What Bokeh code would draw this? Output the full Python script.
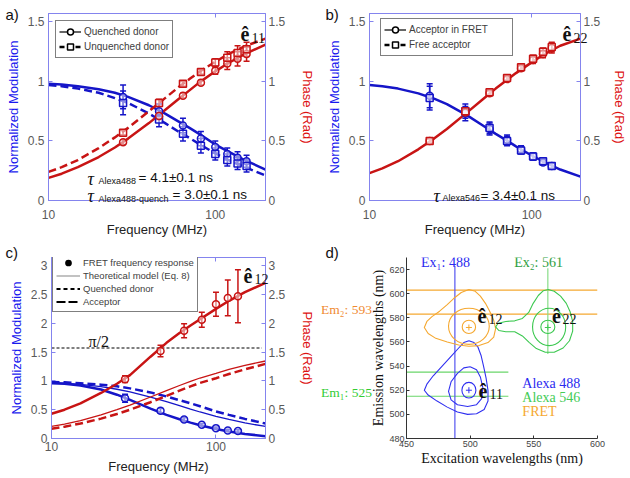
from bokeh.plotting import figure
from bokeh.models import (Range1d, LinearAxis, LogAxis, FixedTicker, NumeralTickFormatter, Label,
                          Legend, LegendItem, Whisker, TeeHead, ColumnDataSource, GridBox)
from bokeh.layouts import row, column
from bokeh.embed import file_html
from bokeh.resources import INLINE

# ---------------- data ----------------
F = [10, 12, 15, 20, 25, 30, 40, 50, 60, 70, 80, 100, 120, 150, 200]

# panel a
a_mod_quenched = [0.98, 0.975, 0.96, 0.935, 0.905, 0.87, 0.80, 0.73, 0.665, 0.61, 0.56, 0.47, 0.41, 0.34, 0.26]
a_mod_unquenched = [0.97, 0.96, 0.94, 0.905, 0.86, 0.82, 0.73, 0.65, 0.58, 0.525, 0.475, 0.395, 0.34, 0.28, 0.21]
a_phase_quenched = [0.19, 0.225, 0.28, 0.365, 0.445, 0.52, 0.65, 0.76, 0.85, 0.925, 0.99, 1.085, 1.155, 1.23, 1.31]
a_phase_unquenched = [0.24, 0.28, 0.34, 0.44, 0.53, 0.61, 0.75, 0.86, 0.95, 1.02, 1.08, 1.165, 1.23, 1.295, 1.36]
FA = [28, 46, 64, 82, 100, 118, 136, 154]
a_pt_mod_q = [0.87, 0.75, 0.63, 0.52, 0.45, 0.39, 0.36, 0.33]
a_pt_mod_u = [0.82, 0.68, 0.56, 0.46, 0.39, 0.34, 0.31, 0.29]
a_err_mod = [0.10, 0.06, 0.06, 0.06, 0.05, 0.05, 0.05, 0.05]
a_pt_ph_q = [0.49, 0.71, 0.88, 0.99, 1.09, 1.15, 1.19, 1.23]
a_pt_ph_u = [0.57, 0.82, 0.98, 1.08, 1.16, 1.20, 1.24, 1.27]
a_err_ph = [0.02, 0.03, 0.02, 0.02, 0.03, 0.05, 0.06, 0.06]

# panel b
b_mod = [0.97, 0.96, 0.94, 0.90, 0.855, 0.81, 0.715, 0.63, 0.56, 0.505, 0.455, 0.378, 0.322, 0.26, 0.20]
b_phase = [0.23, 0.27, 0.33, 0.43, 0.52, 0.60, 0.74, 0.85, 0.94, 1.01, 1.07, 1.16, 1.23, 1.30, 1.36]
FB = [23.5, 39, 55, 70.5, 86, 102, 117.5, 133]
b_pt_mod_fret = [0.88, 0.73, 0.60, 0.51, 0.43, 0.37, 0.32, 0.29]
b_pt_mod_free = [0.86, 0.75, 0.61, 0.50, 0.42, 0.37, 0.33, 0.29]
b_err_mod = [0.10, 0.06, 0.05, 0.04, 0.03, 0.03, 0.02, 0.02]
b_pt_ph_fret = [0.50, 0.74, 0.90, 1.02, 1.11, 1.18, 1.23, 1.28]
b_pt_ph_free = [0.50, 0.75, 0.91, 1.03, 1.12, 1.19, 1.25, 1.29]
b_err_ph = [0.015, 0.03, 0.02, 0.02, 0.02, 0.03, 0.03, 0.04]

# panel c
c_mod_fret = [0.96, 0.95, 0.92, 0.85, 0.76, 0.67, 0.52, 0.41, 0.335, 0.275, 0.23, 0.165, 0.12, 0.08, 0.04]
c_phase_fret = [0.43, 0.50, 0.61, 0.79, 0.95, 1.10, 1.42, 1.66, 1.83, 1.96, 2.07, 2.25, 2.39, 2.54, 2.70]
c_mod_acc = [0.97, 0.96, 0.94, 0.90, 0.855, 0.81, 0.72, 0.64, 0.57, 0.51, 0.46, 0.385, 0.33, 0.27, 0.21]
c_phase_acc = [0.21, 0.25, 0.31, 0.41, 0.50, 0.58, 0.72, 0.83, 0.92, 0.99, 1.05, 1.13, 1.20, 1.27, 1.345]
c_mod_qd = [0.98, 0.975, 0.96, 0.935, 0.905, 0.87, 0.80, 0.73, 0.665, 0.61, 0.56, 0.47, 0.41, 0.34, 0.26]
c_phase_qd = [0.17, 0.205, 0.26, 0.345, 0.425, 0.50, 0.63, 0.74, 0.83, 0.905, 0.965, 1.045, 1.12, 1.20, 1.295]
FC = [28, 46, 64, 82, 100, 118, 136]
c_pt_mod = [0.70, 0.48, 0.33, 0.24, 0.18, 0.14, 0.13]
c_err_mod = [0.07, 0.04, 0.03, 0.02, 0.02, 0.02, 0.02]
c_pt_ph = [1.03, 1.52, 1.87, 2.06, 2.33, 2.44, 2.47]
c_err_ph = [0.06, 0.10, 0.12, 0.13, 0.21, 0.31, 0.46]
PI2_X = [10, 190]
PI2_Y = [1.5708, 1.5708]

YMAX_AB = 1.5708
YMAX_C = 3.1416
YTICKS_AB = [0, 0.5, 1, 1.5]
YTICKS_C = [0, 0.5, 1, 1.5, 2, 2.5, 3]
XTICKS = [10, 100]

# panel d (excitation / emission contours)
blue_outer_x = [499, 503, 506, 508.5, 510.5, 512.5, 514, 514, 511, 505, 498, 490, 482, 474, 467, 464, 466, 471, 478, 485, 491, 495, 499]
blue_outer_y = [561, 559.5, 556, 549, 540, 530, 520, 511, 504, 500.5, 500, 502, 506, 511, 516, 520, 525, 532, 540, 548, 555, 559.5, 561]
blue_mid_x = [500, 505, 508, 510, 509, 505, 498, 490, 485, 483, 485, 490, 495, 500]
blue_mid_y = [539.5, 537, 531, 522, 513, 508, 506.5, 508, 512, 519, 527, 534, 538.5, 539.5]
orange_outer_x = [499, 504, 508, 512, 515.5, 518.5, 520, 518.5, 514, 507, 499, 491, 482, 473, 467, 464, 466, 470, 476, 482, 487, 493, 499]
orange_outer_y = [603.5, 602, 598, 592, 585, 578, 571, 564, 559.5, 557, 556.5, 557.5, 560, 563, 567, 572, 577, 581, 585.5, 591, 596, 601, 603.5]
green_outer_x = [561.3, 566, 571, 575.5, 578.5, 580.5, 580.5, 578, 573, 566, 559, 552, 546.5, 541, 535, 528, 522.5, 520, 522, 528, 535, 541, 546, 549.5, 553.5, 557.5, 561.3]
green_outer_y = [603.5, 602, 598, 592, 585, 577, 569, 561, 555, 551.5, 551.5, 554.5, 559.5, 565, 568.5, 568.5, 569.5, 572.5, 575.5, 577, 577.5, 579.5, 584.5, 592, 598.5, 602.5, 603.5]
ell_x = [499, 499, 499, 562, 561]
ell_y = [520, 572.5, 573, 572.5, 572.5]
ell_w = [11, 10.5, 32, 26, 11]
ell_h = [13, 11, 30, 31, 11]
ell_c = ["#3030f0", "#f5a830", "#f5a830", "#3cc850", "#3cc850"]
center_x = [499, 499, 561]
center_y = [520, 572, 572]
center_c = ["#3030f0", "#f5a830", "#3cc850"]
EM2_Y = [583, 603]
EM2_X = [450, 600]
EM1_Y = [515, 535]
EM1_X = [450, 530]
EX1_X = 488
EX1_Y = [480, 623]
EX2_X = 561
EX2_Y = [550, 621]

# ---------------- styles ----------------
BLUE = "#1515c8"
RED = "#c81414"
FRAME = "#8484ee"
TICKLAB = "#5a5a5a"
SANS = "Liberation Sans"
SERIF = "Liberation Serif"
D_BLUE = "#3030f0"
D_ORANGE = "#f5a830"
D_GREEN = "#3cc850"


def freq_fig(w, h, bl, br, bt, bb, ymax, yticks, x_std, xl_std, r_std):
    p = figure(width=w, height=h, x_axis_type="log",
               x_range=Range1d(10, 200), y_range=Range1d(0, ymax),
               output_backend="svg", toolbar_location=None,
               min_border_left=bl, min_border_right=br, min_border_top=bt, min_border_bottom=bb,
               outline_line_color=FRAME, outline_line_width=1,
               background_fill_color="white", border_fill_color="white")
    p.extra_y_ranges = {"phase": Range1d(0, ymax)}
    rax = LinearAxis(y_range_name="phase", axis_label="Phase (Rad)")
    p.add_layout(rax, "right")
    tax = LogAxis(ticker=FixedTicker(ticks=XTICKS, minor_ticks=[]),
                  formatter=NumeralTickFormatter(format="0"),
                  major_label_text_font_size="6px", major_label_text_alpha=0.0,
                  major_label_standoff=0)
    p.add_layout(tax, "above")
    p.xgrid.visible = False
    p.ygrid.visible = False
    lax = p.left[0]
    bax = p.below[0]
    for ax in [lax, rax]:
        ax.ticker = FixedTicker(ticks=yticks, minor_ticks=[])
        ax.formatter = NumeralTickFormatter(format="0.[0]")
    bax.ticker = FixedTicker(ticks=XTICKS, minor_ticks=[])
    bax.formatter = NumeralTickFormatter(format="0")
    for ax in [lax, rax, bax, tax]:
        ax.major_tick_in = 4
        ax.major_tick_out = 0
        ax.minor_tick_in = 0
        ax.minor_tick_out = 0
        ax.axis_line_color = FRAME
        ax.major_tick_line_color = FRAME
        ax.axis_label_text_font = SANS
        ax.axis_label_text_font_size = "13px"
        ax.axis_label_text_font_style = "normal"
    for ax in [lax, rax, bax]:
        ax.major_label_text_font = SANS
        ax.major_label_text_font_size = "12px"
        ax.major_label_text_color = TICKLAB
    lax.axis_label = "Normalized Modulation"
    lax.axis_label_text_color = "#1a1aee"
    lax.major_label_standoff = 4
    lax.axis_label_standoff = 4
    rax.axis_label_text_color = "#dd1111"
    rax.major_label_standoff = 3
    rax.axis_label_standoff = r_std
    bax.axis_label = "Frequency (MHz)"
    bax.axis_label_text_color = "#222222"
    bax.major_label_standoff = x_std
    bax.axis_label_standoff = xl_std
    return p


def errbars(p, x, y, err, color, rname="default"):
    src = ColumnDataSource(dict(x=x, lo=[a - b for a, b in zip(y, err)], hi=[a + b for a, b in zip(y, err)]))
    w = Whisker(source=src, base="x", lower="lo", upper="hi", dimension="height",
                line_color=color, line_width=1.5, y_range_name=rname,
                upper_head=TeeHead(size=6, line_color=color, line_width=1.5),
                lower_head=TeeHead(size=6, line_color=color, line_width=1.5))
    p.add_layout(w)


def lab(p, x, y, text, size="14px", font=SANS, style="normal", color="#111111",
        align="left", baseline="alphabetic"):
    p.add_layout(Label(x=x, y=y, text=text,
                       text_font=font, text_font_size=size, text_font_style=style,
                       text_color=color, text_align=align, text_baseline=baseline))


def make_legend(p, entries, loc, fsize="10px", gw=22, lw_min=0, lh=15):
    items = []
    for label, dash, marker, fill, lcolor, lw in entries:
        rs = []
        if dash is not None:
            rs.append(p.line(x=[1, 2], y=[-5, -5], line_color=lcolor, line_width=lw, line_dash=dash))
        if marker is not None:
            rs.append(p.scatter(x=[1], y=[-5], marker=marker, size=6, line_color="black",
                                line_width=1.5, fill_color=fill))
        items.append(LegendItem(label=label, renderers=rs))
    leg = Legend(items=items, location=loc, border_line_color="black", border_line_width=1.5,
                 background_fill_color="white", background_fill_alpha=1.0,
                 label_text_font=SANS, label_text_font_size=fsize, label_text_color="#404040",
                 glyph_width=gw, glyph_height=lh, label_height=lh, label_width=lw_min, label_standoff=3,
                 padding=3, spacing=0, margin=0)
    p.add_layout(leg)


def pts(p, x, y, marker, color, rname="default"):
    p.scatter(x=x, y=y, marker=marker, size=7, line_color=color, line_width=1.5,
              fill_color="white", fill_alpha=0.5, y_range_name=rname)


# ---------------- panel a ----------------
pa = freq_fig(318, 240, 48, 53, 13, 40, YMAX_AB, YTICKS_AB, 9, 0, 12)
errbars(pa, FA, a_pt_mod_q, a_err_mod, BLUE)
errbars(pa, FA, a_pt_mod_u, a_err_mod, BLUE)
errbars(pa, FA, a_pt_ph_q, a_err_ph, RED, "phase")
errbars(pa, FA, a_pt_ph_u, a_err_ph, RED, "phase")
pa.line(F, a_mod_quenched, line_color=BLUE, line_width=2.5)
pa.line(F, a_mod_unquenched, line_color=BLUE, line_width=2.5, line_dash="8 4")
pa.line(F, a_phase_quenched, line_color=RED, line_width=2.5, y_range_name="phase")
pa.line(F, a_phase_unquenched, line_color=RED, line_width=2.5, line_dash="8 4", y_range_name="phase")
pts(pa, FA, a_pt_mod_q, "circle", BLUE)
pts(pa, FA, a_pt_mod_u, "square", BLUE)
pts(pa, FA, a_pt_ph_q, "circle", RED, "phase")
pts(pa, FA, a_pt_ph_u, "square", RED, "phase")
make_legend(pa, [("Quenched donor", "solid", "circle", "white", "black", 1.2),
                 ("Unquenched donor", "5 3", "square", "white", "black", 2.5)], (7, 142))

# ---------------- panel b ----------------
pb = freq_fig(312, 240, 51, 43, 13, 39, YMAX_AB, YTICKS_AB, 9, 0, 9)
errbars(pb, FB, b_pt_mod_fret, b_err_mod, BLUE)
errbars(pb, FB, b_pt_mod_free, b_err_mod, BLUE)
errbars(pb, FB, b_pt_ph_fret, b_err_ph, RED, "phase")
errbars(pb, FB, b_pt_ph_free, b_err_ph, RED, "phase")
pb.line(F, b_mod, line_color=BLUE, line_width=2.5)
pb.line(F, b_phase, line_color=RED, line_width=2.5, y_range_name="phase")
pts(pb, FB, b_pt_mod_fret, "circle", BLUE)
pts(pb, FB, b_pt_mod_free, "square", BLUE)
pts(pb, FB, b_pt_ph_fret, "circle", RED, "phase")
pts(pb, FB, b_pt_ph_free, "square", RED, "phase")
make_legend(pb, [("Acceptor in FRET", "solid", "circle", "white", "black", 1.2),
                 ("Free acceptor", "5 3", "square", "white", "black", 2.5)], (11, 144), lw_min=100)

# ---------------- panel c ----------------
pc = freq_fig(318, 238, 51, 52, 13, 40, YMAX_C, YTICKS_C, 3, 5, 12)
pc.line(PI2_X, PI2_Y, line_color="black", line_width=1.2, line_dash="3 2")
errbars(pc, FC, c_pt_mod, c_err_mod, BLUE)
errbars(pc, FC, c_pt_ph, c_err_ph, RED, "phase")
pc.line(F, c_mod_acc, line_color=BLUE, line_width=1.3)
pc.line(F, c_mod_qd, line_color=BLUE, line_width=2.5, line_dash="8 4")
pc.line(F, c_mod_fret, line_color=BLUE, line_width=2.5)
pc.line(F, c_phase_acc, line_color=RED, line_width=1.3, y_range_name="phase")
pc.line(F, c_phase_qd, line_color=RED, line_width=2.5, line_dash="8 4", y_range_name="phase")
pc.line(F, c_phase_fret, line_color=RED, line_width=2.5, y_range_name="phase")
pts(pc, FC, c_pt_mod, "circle", BLUE)
pts(pc, FC, c_pt_ph, "circle", RED, "phase")
make_legend(pc, [("FRET frequency response", None, "circle", "black", "black", 1),
                 ("Theoretical model (Eq. 8)", "solid", None, None, "#999999", 1.2),
                 ("Quenched donor", "4 3", None, None, "black", 2),
                 ("Acceptor", "9 3", None, None, "black", 2)], (1, 126),
            fsize="9.5px", gw=24, lh=13)

# ---------------- panel d ----------------
pd = figure(width=312, height=238, x_range=Range1d(450, 600), y_range=Range1d(480, 630),
            output_backend="svg", toolbar_location=None,
            min_border_left=88, min_border_right=33, min_border_top=17, min_border_bottom=30,
            outline_line_color=None, background_fill_color="white", border_fill_color="white")
pd.xgrid.visible = False
pd.ygrid.visible = False
pd.xaxis.ticker = FixedTicker(ticks=[450, 500, 550, 600], minor_ticks=[])
pd.yaxis.ticker = FixedTicker(ticks=[480, 500, 520, 540, 560, 580, 600, 620], minor_ticks=[])
for ax in [pd.xaxis[0], pd.yaxis[0]]:
    ax.major_tick_in = 3
    ax.major_tick_out = 0
    ax.minor_tick_in = 0
    ax.minor_tick_out = 0
    ax.axis_line_color = "#333333"
    ax.major_tick_line_color = "#333333"
    ax.major_label_text_font = SANS
    ax.major_label_text_font_size = "9px"
    ax.major_label_text_color = "#444444"
    ax.major_label_standoff = 2
    ax.axis_label_text_font = SERIF
    ax.axis_label_text_font_size = "14px"
    ax.axis_label_text_font_style = "normal"
    ax.axis_label_text_color = "#111111"
    ax.axis_label_standoff = 1
pd.xaxis.axis_label = "Excitation wavelengths (nm)"
pd.yaxis.axis_label = "Emission wavelengths (nm)"
pd.yaxis.axis_label_standoff = 0

pd.segment(x0=[EM2_X[0]] * 2, x1=[EM2_X[1]] * 2, y0=EM2_Y, y1=EM2_Y, line_color=D_ORANGE, line_width=1.2)
pd.segment(x0=[EM1_X[0]] * 2, x1=[EM1_X[1]] * 2, y0=EM1_Y, y1=EM1_Y, line_color="#6ad66a", line_width=1.2)
pd.segment(x0=[EX1_X], x1=[EX1_X], y0=[EX1_Y[0]], y1=[EX1_Y[1]], line_color="#5555f0", line_width=1.2)
pd.segment(x0=[EX2_X], x1=[EX2_X], y0=[EX2_Y[0]], y1=[EX2_Y[1]], line_color="#88dd88", line_width=1.2)
pd.line(blue_outer_x, blue_outer_y, line_color=D_BLUE, line_width=1.1, line_join="round")
pd.line(blue_mid_x, blue_mid_y, line_color=D_BLUE, line_width=1.1, line_join="round")
pd.line(orange_outer_x, orange_outer_y, line_color=D_ORANGE, line_width=1.1, line_join="round")
pd.line(green_outer_x, green_outer_y, line_color=D_GREEN, line_width=1.1, line_join="round")
pd.ellipse(x=ell_x, y=ell_y, width=ell_w, height=ell_h, fill_color=None, line_color=ell_c, line_width=1.1)
pd.scatter(x=center_x, y=center_y, marker="cross", size=6, line_color=center_c, line_width=1)

lab(pd, 480.6, 626, "Ex₁: 488", size="14px", font=SERIF, color="#2a2af0", align="center", baseline="middle")
lab(pd, 553.7, 626, "Ex₂: 561", size="14px", font=SERIF, color="#2e9e3e", align="center", baseline="middle")
lab(pd, 541, 525.3, "Alexa 488", size="14px", font=SERIF, color="#2a2af0", baseline="middle")
lab(pd, 541, 514.2, "Alexa 546", size="14px", font=SERIF, color="#44cc55", baseline="middle")
lab(pd, 541, 502.7, "FRET", size="14px", font=SERIF, color="#f5a830", baseline="middle")
lab(pd, 505.8, 581.6, "ê", size="20px", font=SERIF, style="bold")
lab(pd, 514.4, 579.3, "12", size="14px", font=SERIF)
lab(pd, 564.2, 581.6, "ê", size="20px", font=SERIF, style="bold")
lab(pd, 572.5, 579.3, "22", size="14px", font=SERIF)
lab(pd, 506.6, 519.1, "ê", size="20px", font=SERIF, style="bold")
lab(pd, 515.2, 516.7, "11", size="14px", font=SERIF)

# ---------------- transparent text layer over the whole page (page pixels) ----------------
ov = figure(width=630, height=478, x_range=Range1d(0, 630), y_range=Range1d(478, 0),
            output_backend="svg", toolbar_location=None, min_border=0,
            x_axis_location=None, y_axis_location=None, outline_line_color=None,
            background_fill_color=None, border_fill_color=None)
ov.xgrid.visible = False
ov.ygrid.visible = False
# panel letters
lab(ov, 5, 5, "a)", size="15px", baseline="top")
lab(ov, 325, 5, "b)", size="15px", baseline="top")
lab(ov, 5, 243, "c)", size="15px", baseline="top")
lab(ov, 325, 243, "d)", size="15px", baseline="top")
# lifetimes
lab(ov, 87, 178, "τ", size="18px", font=SERIF, style="italic")
lab(ov, 98, 180, "Alexa488", size="9px")
lab(ov, 138, 177, "= 4.1±0.1 ns", size="13.5px")
lab(ov, 87, 195, "τ", size="18px", font=SERIF, style="italic")
lab(ov, 98, 198, "Alexa488-quench", size="9px")
lab(ov, 172, 194, "= 3.0±0.1 ns", size="13.5px")
lab(ov, 433, 195, "τ", size="18px", font=SERIF, style="italic")
lab(ov, 442, 197, "Alexa546", size="9px")
lab(ov, 480, 195, "= 3.4±0.1 ns", size="13.5px")
# hatted e labels of panels a-c
lab(ov, 240, 33, "ê", size="20px", font=SERIF, style="bold")
lab(ov, 251, 37, "11", size="14px", font=SERIF)
lab(ov, 562, 33, "ê", size="20px", font=SERIF, style="bold")
lab(ov, 573, 37, "22", size="14px", font=SERIF)
lab(ov, 243, 275, "ê", size="20px", font=SERIF, style="bold")
lab(ov, 254, 278, "12", size="14px", font=SERIF)
lab(ov, 88, 341, "π/2", size="16px", font=SERIF)
# emission band labels left of panel d axis
lab(ov, 346, 309, "Em₂: 593", size="13.5px", font=SERIF, color="#f08a30", align="center", baseline="middle")
lab(ov, 346, 392, "Em₁: 525", size="13.5px", font=SERIF, color="#33cc33", align="center", baseline="middle")

main = column(row(pa, pb), row(pc, pd))
page = GridBox(children=[(main, 0, 0), (ov, 0, 0)])
open("out.html", "w").write(file_html(page, INLINE))
